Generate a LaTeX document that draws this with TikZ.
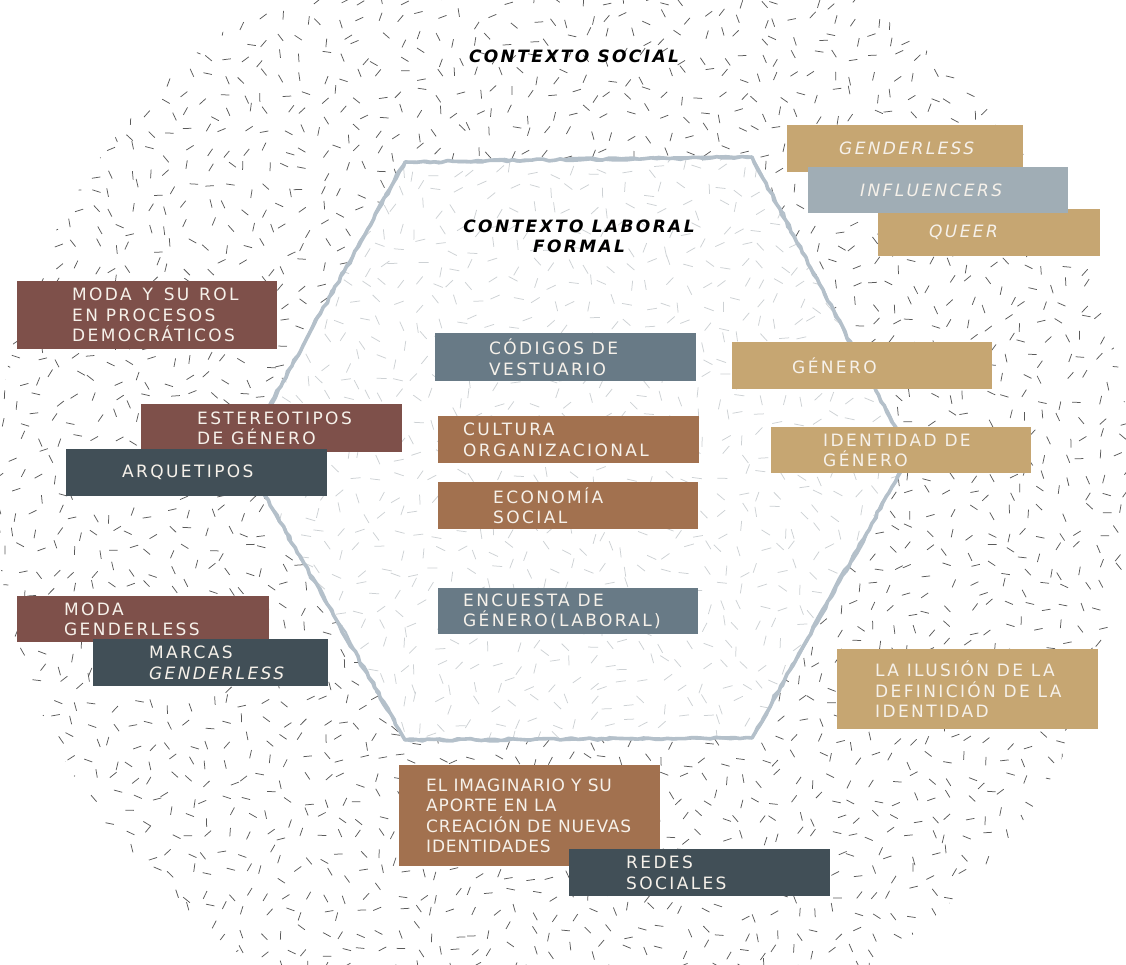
\documentclass[tikz,border=0pt]{standalone}
\usepackage{fontspec}
\setmainfont{DejaVu Sans}
\newfontfamily\trk{DejaVu Sans}[LetterSpace=14,
  BoldFont={DejaVu Sans Bold}, ItalicFont={DejaVu Sans Oblique},
  BoldItalicFont={DejaVu Sans Bold Oblique}]
\newfontfamily\trks{DejaVu Sans}[LetterSpace=5,
  BoldFont={DejaVu Sans Bold}, ItalicFont={DejaVu Sans Oblique},
  BoldItalicFont={DejaVu Sans Bold Oblique}]
\usetikzlibrary{decorations.pathmorphing,calc}
\definecolor{cRed}{HTML}{7E504A}
\definecolor{cBrown}{HTML}{A2714F}
\definecolor{cTan}{HTML}{C6A672}
\definecolor{cSlate}{HTML}{687A86}
\definecolor{cDark}{HTML}{414F57}
\definecolor{cLight}{HTML}{A0ADB5}
\definecolor{cTxt}{HTML}{F6F1EA}
\definecolor{cHex}{HTML}{B4C0CA}
\definecolor{cDashD}{HTML}{5A5A5A}
\definecolor{cDashL}{HTML}{CDD1D4}
\tikzset{
  box/.style={rectangle, draw=none, inner sep=0pt, anchor=north west},
  lbl/.style={anchor=west, inner sep=0pt, align=left, text=cTxt,
    font=\trk\fontsize{17}{20.5}\selectfont},
  lbls/.style={lbl, font=\trks\fontsize{17}{20.5}\selectfont},
  ttl/.style={inner sep=0pt, align=center, text=black,
    font=\trk\bfseries\itshape\fontsize{17}{20}\selectfont},
  dashd/.style={draw=cDashD, line width=0.75pt},
  dashl/.style={draw=cDashL, line width=0.75pt},
  hexline/.style={draw=cHex, line join=round, line cap=round}
}
\begin{document}
\begin{tikzpicture}[x=1pt,y=-1pt]
\useasboundingbox (0,0) rectangle (1126,965);
\pgfmathsetseed{4711}
% outer texture
\begin{scope}
\clip (563,487) circle [radius=568];
\foreach \i in {0,...,59}{
  \foreach \j in {0,...,51}{
    \pgfmathsetmacro\px{\i*19+rand*7}
    \pgfmathsetmacro\py{\j*19+rand*7}
    \pgfmathsetmacro\an{rnd*180}
    \pgfmathsetmacro\dx{4.3*cos(\an)}
    \pgfmathsetmacro\dy{4.3*sin(\an)}
    \draw[dashd] (\px-\dx,\py-\dy) -- (\px+\dx,\py+\dy);
  }}
\end{scope}
% hexagon
\coordinate (h1) at (405,162);
\coordinate (h2) at (752,157);
\coordinate (h3) at (910,455);
\coordinate (h4) at (752,738);
\coordinate (h5) at (405,740);
\coordinate (h6) at (242,455);
\fill[white] (h1) -- (h2) -- (h3) -- (h4) -- (h5) -- (h6) -- cycle;
\begin{scope}
\clip (h1) -- (h2) -- (h3) -- (h4) -- (h5) -- (h6) -- cycle;
\foreach \i in {12,...,49}{
  \foreach \j in {8,...,40}{
    \pgfmathsetmacro\px{\i*19+rand*7}
    \pgfmathsetmacro\py{\j*19+rand*7}
    \pgfmathsetmacro\an{rnd*180}
    \pgfmathsetmacro\dx{5*cos(\an)}
    \pgfmathsetmacro\dy{5*sin(\an)}
    \draw[dashl] (\px-\dx,\py-\dy) -- (\px+\dx,\py+\dy);
  }}
\end{scope}
\draw[hexline, line width=3.6pt, decorate,
  decoration={random steps, segment length=6pt, amplitude=1pt}]
  (h1) -- (h2) -- (h3) -- (h4) -- (h5) -- (h6) -- cycle;
\draw[hexline, line width=2pt, decorate,
  decoration={random steps, segment length=11pt, amplitude=2.2pt}]
  (h1) -- (h2) -- (h3) -- (h4) -- (h5) -- (h6) -- cycle;
% titles
\node[ttl, anchor=base] (tsoc) at (574,63) {CONTEXTO SOCIAL};
\node[ttl, anchor=base] (tlab) at (579,253) {CONTEXTO LABORAL\\FORMAL};
% left boxes
\node[box, fill=cRed, minimum width=260, minimum height=68] (m1) at (17,281) {};
\node[lbl] (m1t) at ($(m1.west)+(55,0)$) {MODA\hspace{3pt} Y\hspace{3pt} SU\hspace{2pt} ROL\\EN PROCESOS\\DEMOCRÁTICOS};
\node[box, fill=cRed, minimum width=261, minimum height=48] (m2) at (141,404) {};
\node[lbl] (m2t) at ($(m2.west)+(56,0)$) {ESTEREOTIPOS\\DE GÉNERO};
\node[box, fill=cDark, minimum width=261, minimum height=47] (m3) at (66,449) {};
\node[lbl] (m3t) at ($(m3.west)+(56,0)$) {ARQUETIPOS};
\node[box, fill=cRed, minimum width=252, minimum height=46] (m4) at (17,596) {};
\node[lbl] (m4t) at ($(m4.west)+(47,0)$) {MODA\\GENDERLESS};
\node[box, fill=cDark, minimum width=235, minimum height=47] (m5) at (93,639) {};
\node[lbl] (m5t) at ($(m5.west)+(56,0)$) {MARCAS\\\textit{GENDERLESS}};
% centre boxes
\node[box, fill=cSlate, minimum width=261, minimum height=48] (c1) at (435,333) {};
\node[lbl] (c1t) at ($(c1.west)+(54,0)$) {CÓDIGOS DE\\VESTUARIO};
\node[box, fill=cBrown, minimum width=261, minimum height=47] (c2) at (438,416) {};
\node[lbl] (c2t) at ($(c2.west)+(25,0)$) {CULTURA\\ORGANIZACIONAL};
\node[box, fill=cBrown, minimum width=260, minimum height=47] (c3) at (438,482) {};
\node[lbl] (c3t) at ($(c3.west)+(55,0)$) {ECONOMÍA\\SOCIAL};
\node[box, fill=cSlate, minimum width=260, minimum height=46] (c4) at (438,588) {};
\node[lbl] (c4t) at ($(c4.west)+(25,0)$) {ENCUESTA DE\\GÉNERO(LABORAL)};
% right boxes
\node[box, fill=cTan, minimum width=236, minimum height=47] (r1) at (787,125) {};
\node[lbl] (r1t) at ($(r1.west)+(52,0)$) {\textit{GENDERLESS}};
\node[box, fill=cTan, minimum width=222, minimum height=47] (r3) at (878,209) {};
\node[lbl] (r3t) at ($(r3.west)+(51,0)$) {\textit{QUEER}};
\node[box, fill=cLight, minimum width=260, minimum height=46] (r2) at (808,167) {};
\node[lbl] (r2t) at ($(r2.west)+(52,0)$) {\textit{INFLUENCERS}};
\node[box, fill=cTan, minimum width=260, minimum height=47] (r4) at (732,342) {};
\node[lbl] (r4t) at ($(r4.west)+(60,0)$) {GÉNERO};
\node[box, fill=cTan, minimum width=260, minimum height=46] (r5) at (771,427) {};
\node[lbl] (r5t) at ($(r5.west)+(52,0)$) {IDENTIDAD DE\\GÉNERO};
\node[box, fill=cTan, minimum width=261, minimum height=80] (r6) at (837,649) {};
\node[lbl] (r6t) at ($(r6.west)+(38,0)$) {LA ILUSIÓN DE LA\\DEFINICIÓN DE LA\\IDENTIDAD};
% bottom boxes
\node[box, fill=cBrown, minimum width=261, minimum height=101] (b1) at (399,765) {};
\node[lbls] (b1t) at ($(b1.west)+(27,0)$) {EL IMAGINARIO Y SU\\APORTE EN LA\\CREACIÓN DE NUEVAS\\IDENTIDADES};
\node[box, fill=cDark, minimum width=261, minimum height=47] (b2) at (569,849) {};
\node[lbl] (b2t) at ($(b2.west)+(57,0)$) {REDES\\SOCIALES};
\end{tikzpicture}
\end{document}
